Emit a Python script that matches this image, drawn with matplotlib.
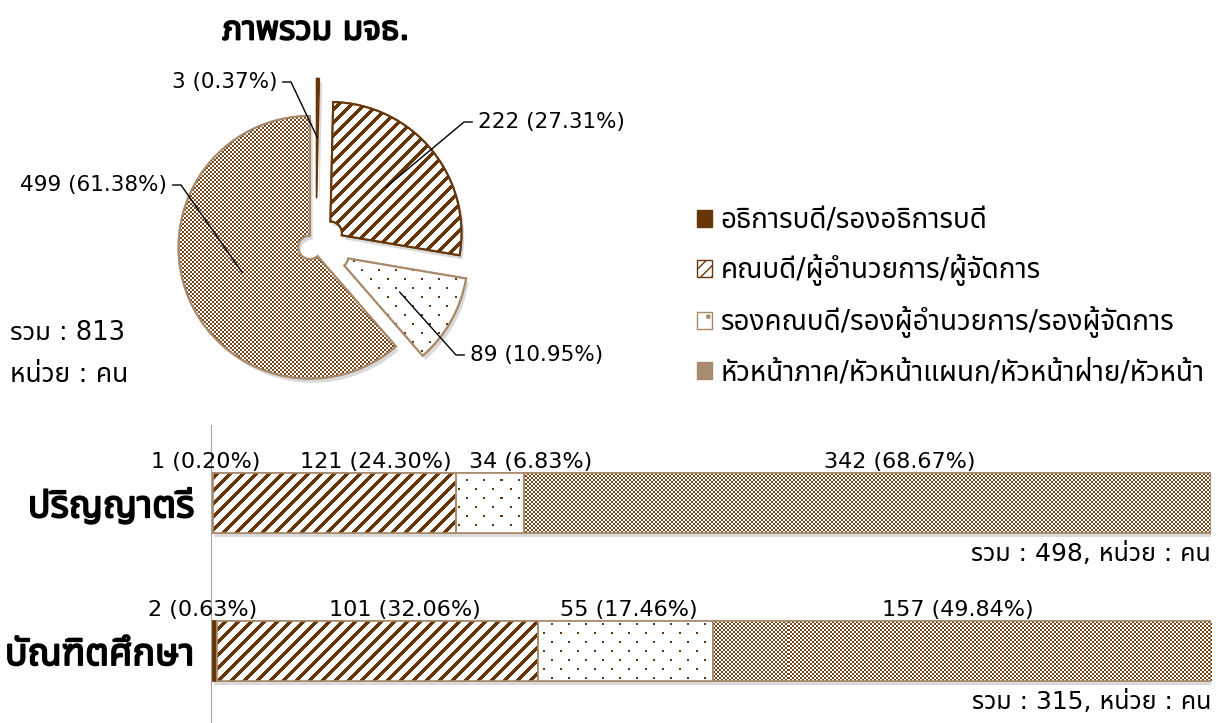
import numpy as np
import matplotlib
matplotlib.use("Agg")
import matplotlib.pyplot as plt
from matplotlib import font_manager as fm
from matplotlib.patches import Patch, Wedge, Rectangle
import matplotlib.patheffects as pe

# data
positions = ["อธิการบดี/รองอธิการบดี",
             "คณบดี/ผู้อำนวยการ/ผู้จัดการ",
             "รองคณบดี/รองผู้อำนวยการ/รองผู้จัดการ",
             "หัวหน้าภาค/หัวหน้าแผนก/หัวหน้าฝ่าย/หัวหน้า"]
overall = [3, 222, 89, 499]
levels = ["ปริญญาตรี", "บัณฑิตศึกษา"]
bachelor = [1, 121, 34, 342]
graduate = [2, 101, 55, 157]
pie_title = "ภาพรวม มจธ."
unit = "คน"


def find_thai_family():
    try:
        from fontTools.ttLib import TTFont, TTCollection
    except ImportError:
        return None
    names = []
    for path in fm.findSystemFonts():
        try:
            if path.lower().endswith((".ttc", ".otc")):
                faces = TTCollection(path, lazy=True).fonts
            else:
                faces = [TTFont(path, lazy=True)]
            ok = False
            for f in faces:
                cmap = f.getBestCmap() or {}
                if 0x0E01 in cmap and 0x0E34 in cmap:
                    ok = True
                    break
            if ok:
                fm.fontManager.addfont(path)
                names.append(fm.FontProperties(fname=path).get_name())
        except Exception:
            continue
    preferred = ["Tahoma", "Leelawadee UI", "Noto Sans Thai", "Noto Sans Thai UI",
                 "Loma", "Garuda", "Sarabun", "Waree", "Umpush", "Norasi", "Kinnari"]
    for p in preferred:
        if p in names:
            return p
    return names[0] if names else None


thai = find_thai_family()
# latin glyphs from DejaVu, thai glyphs from the thai font
plt.rcParams["font.family"] = ["DejaVu Sans"] + ([thai] if thai else [])

brown = "#663608"
check_brown = "#74461C"
tan = "#A8896A"
bold = [pe.withStroke(linewidth=1.3, foreground="black")]


def pattern(kind, h, w):
    r, c = np.mgrid[0:h, 0:w]
    color = brown
    if kind == "check":
        mask = ((r // 2 + c // 2) % 2) == 0
        color = check_brown
    elif kind == "stripe":
        mask = ((r + c) % 13) < 5
    else:
        mask = ((r % 9) < 2) & (((c + (r // 9 % 2) * 8) % 17) < 2)
    img = np.ones((h, w, 3))
    img[mask] = matplotlib.colors.to_rgb(color)
    return img


kinds = ["solid", "stripe", "dots", "check"]
edges = [brown, brown, tan, tan]
shadow = [pe.SimplePatchShadow(offset=(2, -3), shadow_rgbFace="black", alpha=0.15), pe.Normal()]

W, H = 1220, 723


def px_rect(left, top, width, height):
    return [left / W, 1 - (top + height) / H, width / W, height / H]


fig = plt.figure(figsize=(12.2, 7.23), dpi=100)

# ---- pie ----
ax_pie = fig.add_axes(px_rect(106, 35, 420, 420))
lim = 1.6
wedges, _ = ax_pie.pie(overall, explode=[0.27, 0.14, 0.18, 0.05], startangle=90,
                       counterclock=False, radius=1, wedgeprops=dict(width=0.91))
for w, kind, ec in zip(wedges, kinds, edges):
    w.set_path_effects(shadow)
    if kind == "solid":
        w.set_facecolor(brown)
        w.set_edgecolor(brown)
        w.set_linewidth(1)
        continue
    w.set_facecolor("white")
    w.set_edgecolor(ec)
    w.set_linewidth(1.5)
    im = ax_pie.imshow(pattern(kind, 420, 420), extent=(-lim, lim, -lim, lim),
                       interpolation="nearest", zorder=1.5)
    im.set_clip_path(w)
    ax_pie.add_patch(Wedge(w.center, w.r, w.theta1, w.theta2, width=w.width,
                           fill=False, edgecolor=ec, linewidth=1.5, zorder=2))

ax_pie.set_xlim(-lim, lim)
ax_pie.set_ylim(-lim, lim)
ax_pie.set_aspect("equal")
ax_pie.set_axis_off()
ax_pie.patch.set_alpha(0)

# pie labels (text anchor in figure pixels from top-left, side of leader)
pie_lab = [(277, 82, "right"), (478, 122, "left"), (470, 355, "left"), (167, 185, "right")]
total = sum(overall)
for w, v, (tx, ty, side) in zip(wedges, overall, pie_lab):
    ang = np.deg2rad((w.theta1 + w.theta2) / 2)
    pt = (w.center[0] + 0.55 * w.r * np.cos(ang), w.center[1] + 0.55 * w.r * np.sin(ang))
    right = side == "right"
    ax_pie.annotate(f"{v} ({v / total * 100:.2f}%)", xy=pt, xycoords="data",
                    xytext=(tx, H - ty), textcoords="figure pixels",
                    ha=side, va="center", fontsize=15.5, annotation_clip=False,
                    arrowprops=dict(arrowstyle="-", color="black", lw=1,
                                    shrinkA=2, shrinkB=0,
                                    relpos=(1, 0.5) if right else (0, 0.5),
                                    connectionstyle=f"arc,angleA={0 if right else 180},armA=14,rad=0"))

fig.text(316 / W, 1 - 30 / H, pie_title, ha="center", va="center", fontsize=24,
         path_effects=bold)
fig.text(10 / W, 1 - 333 / H, f"รวม : {total}", ha="left", va="center", fontsize=18.5)
fig.text(10 / W, 1 - 375 / H, f"หน่วย : {unit}", ha="left", va="center", fontsize=19)

# legend
handles = [Patch(facecolor=brown, edgecolor=brown),
           Patch(facecolor="white", edgecolor=brown, hatch="///"),
           Patch(facecolor="white", edgecolor=tan, hatch="."),
           Patch(facecolor="#A88C70", edgecolor=tan)]
fig.legend(handles, positions, loc="upper left", bbox_to_anchor=(686 / W, 1 - 195 / H),
           frameon=False, fontsize=20, handlelength=0.55, handleheight=0.55,
           handletextpad=0.3, labelspacing=0.72, borderaxespad=0)

# ---- stacked bars ----
ax_bar = fig.add_axes(px_rect(211, 425, 1000, 298))
rows = [bachelor, graduate]
totals = [sum(r) for r in rows]
bar_h = 0.405
y_top, y_bot = -0.527, 1.486
label_dx = [[-6, 41, 41, 32], [-12, 27, 4, -4]]

for i, (vals, t) in enumerate(zip(rows, totals)):
    left = 0.0
    for j, v in enumerate(vals):
        share = v / t * 100
        bar = ax_bar.barh(i, share, left=left, height=bar_h, color="white",
                          edgecolor=tan, linewidth=1.2)[0]
        bar.set_path_effects(shadow)
        if kinds[j] == "solid":
            bar.set_facecolor(brown)
            bar.set_edgecolor(brown)
        else:
            im = ax_bar.imshow(pattern(kinds[j], 298, 1000), extent=(0, 100, y_bot, y_top),
                               aspect="auto", interpolation="nearest", zorder=1.5)
            im.set_clip_path(bar)
            ax_bar.add_patch(Rectangle(bar.get_xy(), bar.get_width(), bar.get_height(),
                                       fill=False, edgecolor=tan, linewidth=1.2, zorder=2))
        ax_bar.annotate(f"{v} ({share:.2f}%)", xy=(left + share / 2, i - bar_h / 2),
                        xytext=(label_dx[i][j], 1), textcoords="offset pixels",
                        ha="center", va="bottom", fontsize=16, annotation_clip=False)
        left += share
    ax_bar.annotate(f"รวม : {t}, หน่วย : {unit}", xy=(100, i + bar_h / 2),
                    xytext=(0, -9), textcoords="offset pixels",
                    ha="right", va="top", fontsize=18, annotation_clip=False)

ax_bar.set_xlim(0, 100)
ax_bar.set_ylim(y_bot, y_top)
ax_bar.set_yticks(range(len(levels)))
ax_bar.set_yticklabels(levels, fontsize=27, path_effects=bold)
ax_bar.tick_params(axis="y", length=0, pad=12)
ax_bar.set_xticks([])
for s in ["top", "right", "bottom"]:
    ax_bar.spines[s].set_visible(False)
ax_bar.spines["left"].set_color("#A6A6A6")
ax_bar.patch.set_alpha(0)

fig.savefig("out.png", dpi=100)
